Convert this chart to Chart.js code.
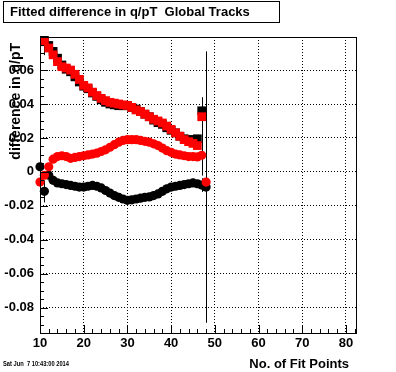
<!DOCTYPE html>
<html><head><meta charset="utf-8">
<script src="https://cdn.jsdelivr.net/npm/chart.js@4/dist/chart.umd.min.js"></script>
<style>html,body{margin:0;padding:0;background:#fff;}#wrap{width:396px;height:372px;}</style>
</head><body><div id="wrap"><canvas id="c" width="396" height="372"></canvas></div>
<script>
const FONT = '"Liberation Sans", Arial, Helvetica, sans-serif';
const titleText = 'Fitted difference in q/pT  Global Tracks';
const xTitle = 'No. of Fit Points';
const yTitle = 'difference in q/pT';
const dateText = 'Sat Jun  7 10:43:00 2014';

const xMajorTicks = [10, 20, 30, 40, 50, 60, 70, 80];
const yMajorTicks = [-0.08, -0.06, -0.04, -0.02, 0, 0.02, 0.04, 0.06];

const squareX = [11,12,13,14,15,16,17,18,19,20,21,22,23,24,25,26,27,28,29,30,31,32,33,34,35,36,37,38,39,40,41,42,43,44,45,46,47];
const blackSquares = [0.0775,0.0745,0.071,0.067,0.063,0.0605,0.059,0.056,0.053,0.0505,0.049,0.0465,0.0445,0.0425,0.041,0.040,0.0395,0.039,0.039,0.039,0.038,0.037,0.0355,0.034,0.0325,0.0305,0.029,0.028,0.026,0.0245,0.023,0.021,0.0195,0.019,0.019,0.0195,0.036];
const redSquares = [0.0767,0.073,0.069,0.065,0.062,0.0612,0.060,0.0575,0.0545,0.051,0.0495,0.047,0.045,0.0433,0.042,0.041,0.0405,0.040,0.0395,0.0392,0.038,0.0365,0.0355,0.034,0.0325,0.031,0.030,0.0288,0.027,0.025,0.023,0.021,0.019,0.0178,0.0168,0.0155,0.0325];
const blackSquareErr = [0.0087,0,0,0,0,0,0,0,0,0,0,0,0,0,0,0,0,0,0,0,0,0,0,0,0,0,0,0,0,0,0,0,0,0,0,0,0.008];
const redSquareErr = [0,0,0,0,0,0,0,0,0,0,0,0,0,0,0,0,0,0,0,0,0,0,0,0,0,0,0,0,0,0,0,0,0,0,0,0,0.011];

const circleX = [10,11,12,13,14,15,16,17,18,19,20,21,22,23,24,25,26,27,28,29,30,31,32,33,34,35,36,37,38,39,40,41,42,43,44,45,46,47,48];
const redCircles = [-0.006,-0.002,0.003,0.0075,0.009,0.0095,0.009,0.008,0.0085,0.009,0.0095,0.010,0.0105,0.011,0.012,0.013,0.0145,0.016,0.0175,0.0185,0.019,0.019,0.019,0.0185,0.018,0.0175,0.0165,0.0155,0.014,0.0125,0.0115,0.0105,0.010,0.0095,0.009,0.009,0.0088,0.0098,-0.006];
const blackCircles = [0.003,-0.0115,-0.002,-0.005,-0.0065,-0.007,-0.0075,-0.008,-0.0085,-0.009,-0.009,-0.0085,-0.008,-0.0085,-0.0095,-0.011,-0.0125,-0.014,-0.015,-0.016,-0.0168,-0.0165,-0.016,-0.0155,-0.015,-0.0148,-0.014,-0.013,-0.0115,-0.010,-0.009,-0.0085,-0.008,-0.0075,-0.007,-0.0065,-0.007,-0.0078,-0.009];
const blackCircleErr = [0.0195,0.0065,0,0,0,0,0,0,0,0,0,0,0,0,0,0,0,0,0,0,0,0,0,0,0,0,0,0,0,0,0,0,0,0,0,0,0,0.004,0.08];
const redCircleErr = [0,0,0,0,0,0,0,0,0,0,0,0,0,0,0,0,0,0,0,0,0,0,0,0,0,0,0,0,0,0,0,0,0,0,0,0,0,0.012,0];

const toPts = (xs, ys) => xs.map((x, i) => ({x: x, y: ys[i]}));

function drawErr(ctx, xs, ys, es, sx, sy) {
  ctx.beginPath();
  for (let i = 0; i < xs.length; i++) {
    if (!es[i]) continue;
    const px = Math.round(sx.getPixelForValue(xs[i])) + 0.5;
    ctx.moveTo(px, sy.getPixelForValue(ys[i] + es[i]));
    ctx.lineTo(px, sy.getPixelForValue(ys[i] - es[i]));
  }
  ctx.stroke();
}

const rootStyle = {
  id: 'rootStyle',
  beforeDraw(chart) {
    const ctx = chart.ctx;
    ctx.save(); ctx.fillStyle = '#fff'; ctx.fillRect(0, 0, chart.width, chart.height); ctx.restore();
  },
  beforeDatasetsDraw(chart) {
    const {ctx, chartArea: a, scales: {x, y}} = chart;
    ctx.save();
    ctx.beginPath(); ctx.rect(a.left, a.top, a.right - a.left, a.bottom - a.top); ctx.clip();
    ctx.strokeStyle = '#000'; ctx.lineWidth = 1;
    drawErr(ctx, squareX, blackSquares, blackSquareErr, x, y);
    drawErr(ctx, squareX, redSquares, redSquareErr, x, y);
    drawErr(ctx, circleX, blackCircles, blackCircleErr, x, y);
    drawErr(ctx, circleX, redCircles, redCircleErr, x, y);
    ctx.restore();
  },
  afterDraw(chart) {
    const {ctx, chartArea: a, scales: {x, y}} = chart;
    ctx.save();
    ctx.strokeStyle = '#000'; ctx.lineWidth = 1;
    ctx.strokeRect(Math.round(a.left) + 0.5, Math.round(a.top) + 0.5, Math.round(a.right - a.left), Math.round(a.bottom - a.top));
    ctx.beginPath();
    for (let v = 10; v <= x.max + 1e-9; v += 2) {
      const px = Math.round(x.getPixelForValue(v)) + 0.5;
      const len = (Math.round(v) % 10 === 0) ? 8 : 4;
      ctx.moveTo(px, a.bottom); ctx.lineTo(px, a.bottom - len);
    }
    for (let k = -19; k * 0.005 <= y.max + 1e-9; k++) {
      const v = k * 0.005;
      const py = Math.round(y.getPixelForValue(v)) + 0.5;
      const len = (k % 4 === 0) ? 8 : 4;
      ctx.moveTo(a.left, py); ctx.lineTo(a.left + len, py);
    }
    ctx.stroke();
    ctx.fillStyle = '#fff';
    ctx.fillRect(3, 1, 276, 21);
    ctx.strokeRect(3.5, 1.5, 276, 21);
    ctx.fillStyle = '#000';
    ctx.font = 'bold 13px ' + FONT;
    ctx.textBaseline = 'middle'; ctx.textAlign = 'left';
    ctx.fillText(titleText, 10, 12.5);
    ctx.font = 'bold 13px ' + FONT;
    ctx.textAlign = 'right';
    ctx.fillText(xTitle, 349, 364);
    ctx.font = 'bold 7px ' + FONT;
    ctx.textAlign = 'left';
    ctx.fillText(dateText, 3, 364, 66);
    ctx.translate(16, 43);
    ctx.rotate(-Math.PI / 2);
    ctx.font = 'bold 14px ' + FONT;
    ctx.textAlign = 'right'; ctx.textBaseline = 'middle';
    ctx.fillText(yTitle, 0, 0);
    ctx.restore();
  }
};

const tickFont = {family: FONT, size: 13, weight: 'bold'};

new Chart(document.getElementById('c'), {
  type: 'scatter',
  data: {
    datasets: [
      {label: 'red circles', data: toPts(circleX, redCircles), pointStyle: 'circle', pointRadius: 4.6, backgroundColor: '#ff0000', borderColor: '#ff0000', borderWidth: 0, clip: false},
      {label: 'black circles', data: toPts(circleX, blackCircles), pointStyle: 'circle', pointRadius: 4.6, backgroundColor: '#000', borderColor: '#000', borderWidth: 0, clip: false},
      {label: 'red squares', data: toPts(squareX, redSquares), pointStyle: 'rect', pointRadius: 6.2, backgroundColor: '#ff0000', borderColor: '#ff0000', borderWidth: 0, clip: false},
      {label: 'black squares', data: toPts(squareX, blackSquares), pointStyle: 'rect', pointRadius: 6.2, backgroundColor: '#000', borderColor: '#000', borderWidth: 0, clip: false}
    ]
  },
  options: {
    responsive: false,
    animation: false,
    events: [],
    layout: {padding: {top: 37, right: 40, left: 0, bottom: 0}},
    plugins: {legend: {display: false}, tooltip: {enabled: false}, title: {display: false}},
    scales: {
      x: {
        type: 'linear', min: 10, max: 82.3,
        afterFit: s => { s.height = 39; },
        afterBuildTicks: s => { s.ticks = xMajorTicks.map(v => ({value: v})); },
        ticks: {font: tickFont, color: '#000', padding: 3, maxRotation: 0, autoSkip: false, callback: v => String(v)},
        grid: {color: '#000', lineWidth: 1, drawTicks: false},
        border: {display: false, dash: [1, 2]}
      },
      y: {
        type: 'linear', min: -0.095, max: 0.0795,
        afterFit: s => { s.width = 40; },
        afterBuildTicks: s => { s.ticks = yMajorTicks.map(v => ({value: v})); },
        ticks: {font: tickFont, color: '#000', padding: 6, autoSkip: false, callback: v => String(Math.round(v * 100) / 100)},
        grid: {color: '#000', lineWidth: 1, drawTicks: false},
        border: {display: false, dash: [1, 2]}
      }
    }
  },
  plugins: [rootStyle]
});
</script>
</body></html>
